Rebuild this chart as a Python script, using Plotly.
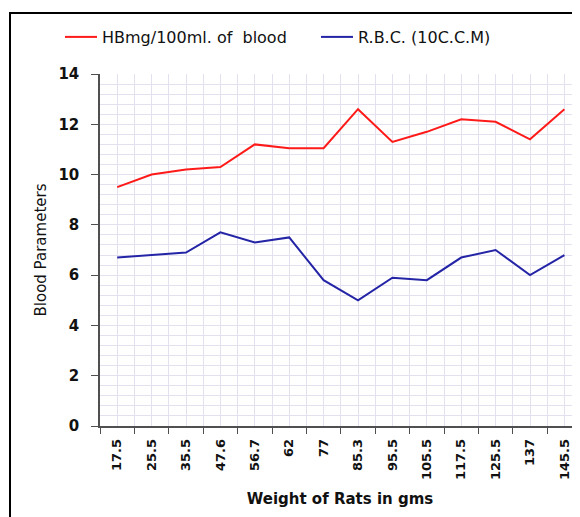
import plotly.graph_objects as go

weights = ["17.5", "25.5", "35.5", "47.6", "56.7", "62", "77", "85.3",
           "95.5", "105.5", "117.5", "125.5", "137", "145.5"]
hb = [9.5, 10.0, 10.2, 10.3, 11.2, 11.05, 11.05, 12.6, 11.3, 11.7, 12.2, 12.1, 11.4, 12.6]
rbc = [6.7, 6.8, 6.9, 7.7, 7.3, 7.5, 5.8, 5.0, 5.9, 5.8, 6.7, 7.0, 6.0, 6.8]
y_ticks = [0, 2, 4, 6, 8, 10, 12, 14]

xs = list(range(len(weights)))

# page body has an 8px margin; work in screen pixels and offset
OFF = 8
SW, SH = 580, 517
W, H = SW - OFF, SH - OFF
PL, PT, PB, PR = 100, 74, 426, 580   # plot area in screen pixels
L, T = PL - OFF, PT - OFF
B = H - (PB - OFF)
R = W - (PR - OFF)
pw, ph = PR - PL, PB - PT

def px2paper(x, y):
    return (x - PL) / pw, (PB - y) / ph

fig = go.Figure()
fig.add_trace(go.Scatter(x=xs, y=hb, mode="lines", name="HBmg/100ml. of  blood",
                         line=dict(color="#ff1a1a", width=2), legend="legend"))
fig.add_trace(go.Scatter(x=xs, y=rbc, mode="lines", name="R.B.C. (10C.C.M)",
                         line=dict(color="#2424a6", width=2), legend="legend2"))

grid = "#e3e0ef"
axis_c = "#505050"
cat_w = 34.4
fig.update_xaxes(
    automargin=False,
    range=[-0.5, -0.5 + pw / cat_w],
    tickmode="array", tickvals=xs, ticktext=weights, tickangle=-90,
    ticks="", showgrid=True, gridcolor=grid, gridwidth=1, ticklabelstandoff=6,
    minor=dict(tick0=-0.5, dtick=1, ticks="outside", ticklen=6, tickcolor=axis_c,
               showgrid=True, gridcolor=grid, gridwidth=1),
    showline=True, linecolor=axis_c, linewidth=1.5, zeroline=False,
    tickfont=dict(family="DejaVu Sans", size=13, color="#111", weight="bold"),
    title=dict(text="Weight of Rats in gms", standoff=14,
               font=dict(family="DejaVu Sans", size=15, color="#111", weight="bold")),
)
fig.update_yaxes(
    automargin=False,
    range=[0, 14], tickmode="array", tickvals=y_ticks,
    ticks="outside", ticklen=7, tickcolor=axis_c, ticklabelstandoff=9,
    showgrid=True, gridcolor=grid, gridwidth=1,
    minor=dict(dtick=0.4, showgrid=True, gridcolor=grid, gridwidth=1),
    showline=True, linecolor=axis_c, linewidth=1.5, zeroline=False,
    tickfont=dict(family="DejaVu Sans", size=15, color="#111", weight="bold"),
    title=dict(text="Blood Parameters", standoff=8,
               font=dict(family="DejaVu Sans", size=15, color="#111")),
)

x0, y0 = px2paper(10, 13)
x1, y1 = px2paper(600, 540)
fig.add_shape(type="rect", xref="paper", yref="paper", x0=x0, y0=y1, x1=x1, y1=y0,
              line=dict(color="black", width=2), fillcolor="rgba(0,0,0,0)", layer="above")

lfont = dict(family="DejaVu Sans", size=16, color="#111")
l1x, ly = px2paper(60, 37)
l2x, _ = px2paper(316, 37)
fig.update_layout(
    width=W, height=H, margin=dict(l=L, r=R, t=T, b=B, autoexpand=False),
    paper_bgcolor="white", plot_bgcolor="white",
    showlegend=True,
    legend=dict(orientation="h", x=l1x, y=ly, xanchor="left", yanchor="middle",
                itemwidth=32, font=lfont, bgcolor="rgba(0,0,0,0)"),
    legend2=dict(orientation="h", x=l2x, y=ly, xanchor="left", yanchor="middle",
                 itemwidth=32, font=lfont, bgcolor="rgba(0,0,0,0)"),
)

fig.write_html("out.html")
